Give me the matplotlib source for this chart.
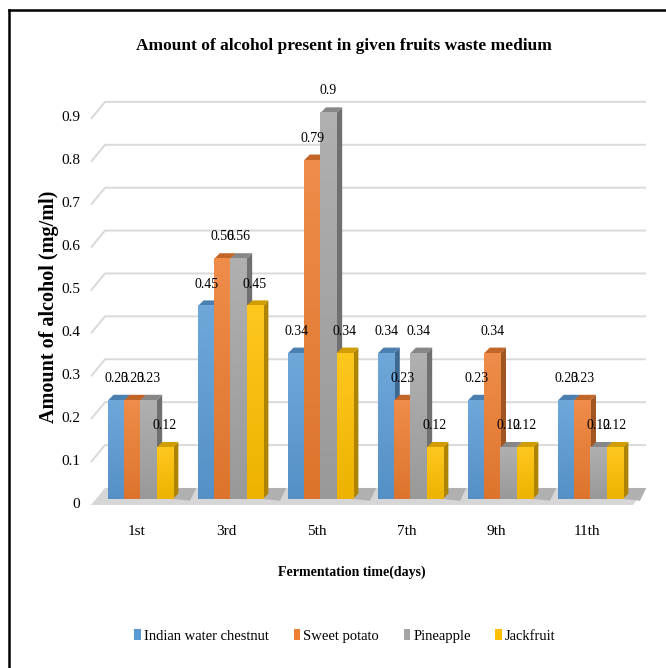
import numpy as np
import matplotlib
matplotlib.use('Agg')
import matplotlib.pyplot as plt
from matplotlib.patches import Polygon, Patch
from matplotlib.lines import Line2D
from matplotlib.colors import to_rgb

days = ['1st', '3rd', '5th', '7th', '9th', '11th']
series_names = ['Indian water chestnut', 'Sweet potato', 'Pineapple', 'Jackfruit']
chestnut = [0.23, 0.45, 0.34, 0.34, 0.23, 0.23]
sweet_potato = [0.23, 0.56, 0.79, 0.23, 0.34, 0.23]
pineapple = [0.23, 0.56, 0.90, 0.34, 0.12, 0.12]
jackfruit = [0.12, 0.45, 0.34, 0.12, 0.12, 0.12]
y_ticks = [0, 0.1, 0.2, 0.3, 0.4, 0.5, 0.6, 0.7, 0.8, 0.9]
colors = ['#5b9bd5', '#ed7d31', '#a5a5a5', '#ffc000']

plt.rcParams['font.family'] = ['Liberation Serif', 'DejaVu Serif']


def shade(color, f):
    c = np.array(to_rgb(color))
    if f > 1:
        return tuple(c + (1 - c) * (f - 1))
    return tuple(c * f)


def main():
    series = [chestnut, sweet_potato, pineapple, jackfruit]
    fig = plt.figure(figsize=(6.66, 6.68), dpi=100)
    ax = fig.add_axes([0, 0, 1, 1])

    width = 0.18
    dx, dy = 0.061, 0.0128          # depth of each bar
    wall_dx = 0.156                 # depth of floor / side wall
    floor_front, floor_back = -0.014, 0.0256
    x_left, x_right = -0.55, 5.472

    # back wall gridlines, with the slanted piece on the side wall
    for v in y_ticks[1:]:
        ax.plot([x_left, x_left + wall_dx, x_right + wall_dx * 0.93],
                [v + floor_front, v + floor_back, v + floor_back],
                color='#d9d9d9', lw=1.4, zorder=1, solid_capstyle='butt')

    # floor with a soft shadow to the right of each group
    ax.add_patch(Polygon([(x_left, floor_front), (x_right, floor_front),
                          (x_right + wall_dx * 0.93, floor_back),
                          (x_left + wall_dx, floor_back)],
                         closed=True, facecolor='#d6d6d6', edgecolor='none',
                         zorder=1.5))
    x = np.arange(len(days))
    for g in x:
        r = g + 2 * width
        ax.add_patch(Polygon([(r, 0), (r + 0.19, floor_front * 0.3),
                              (r + 0.26, floor_back), (r + dx, floor_back)],
                             closed=True, facecolor='#b0b0b0', edgecolor='none',
                             zorder=1.6))

    grad = np.linspace(0, 1, 64)[:, None, None]
    for s, (vals, col) in enumerate(zip(series, colors)):
        pos = x + (s - 1.5) * width
        bars = ax.bar(pos, vals, width, color=col, zorder=3 + 2 * s,
                      linewidth=0)
        top_c = np.array(shade(col, 1.12))
        bot_c = np.array(shade(col, 0.93))
        side_c = shade(col, 0.68)
        lid_c = shade(col, 0.82)
        for bar, v in zip(bars, vals):
            x0, w, h = bar.get_x(), bar.get_width(), bar.get_height()
            img = top_c * (1 - grad) + bot_c * grad
            ax.imshow(img, extent=(x0, x0 + w, 0, h), origin='upper',
                      aspect='auto', zorder=3 + 2 * s, interpolation='bilinear')
            ax.add_patch(Polygon([(x0 + w, 0), (x0 + w + dx, dy),
                                  (x0 + w + dx, h + dy), (x0 + w, h)],
                                 closed=True, facecolor=side_c,
                                 edgecolor='none', zorder=2 + 2 * s))
            ax.add_patch(Polygon([(x0, h), (x0 + w, h),
                                  (x0 + w + dx, h + dy), (x0 + dx, h + dy)],
                                 closed=True, facecolor=lid_c,
                                 edgecolor='none', zorder=2 + 2 * s))
            ax.text(x0 + w / 2, h + 0.051, f'{v:g}', ha='center', va='center',
                    fontsize=10, zorder=20)

    # value axis labels
    for v in y_ticks:
        ax.text(-0.672, v - 0.012, f'{v:g}', ha='right', va='center',
                fontsize=11)
    for g, d in zip(x, days):
        ax.text(g - 0.044, -0.077, d, ha='center', va='center', fontsize=11)

    ax.text(2.256, 1.056, 'Amount of alcohol present in given fruits waste medium',
            ha='center', va='center', fontsize=12.5, fontweight='bold')
    ax.text(2.35, -0.170, 'Fermentation time(days)', ha='center', va='center',
            fontsize=10, fontweight='bold')
    ax.text(-1.02, 0.4476, 'Amount of alcohol (mg/ml)', ha='center',
            va='center', rotation=90, fontsize=14.5, fontweight='bold')

    handles = [Patch(facecolor=c, edgecolor='none') for c in colors]
    fig.legend(handles, series_names, loc='center', bbox_to_anchor=(0.518, 0.048),
               ncol=4, frameon=False, handlelength=0.45, handleheight=0.75,
               handletextpad=0.2, columnspacing=1.7, fontsize=10.5)

    # outer frame (left and top edges)
    fig.add_artist(Line2D([0.0135, 0.0135], [0, 0.985], color='black', lw=1.8,
                          transform=fig.transFigure))
    fig.add_artist(Line2D([0.0135, 1.0], [0.985, 0.985], color='black', lw=1.8,
                          transform=fig.transFigure))

    ax.set_xlim(-1.561, 5.839)
    ax.set_ylim(-0.394, 1.163)
    ax.axis('off')
    fig.savefig('out.png', dpi=100)


if __name__ == "__main__":
    main()
